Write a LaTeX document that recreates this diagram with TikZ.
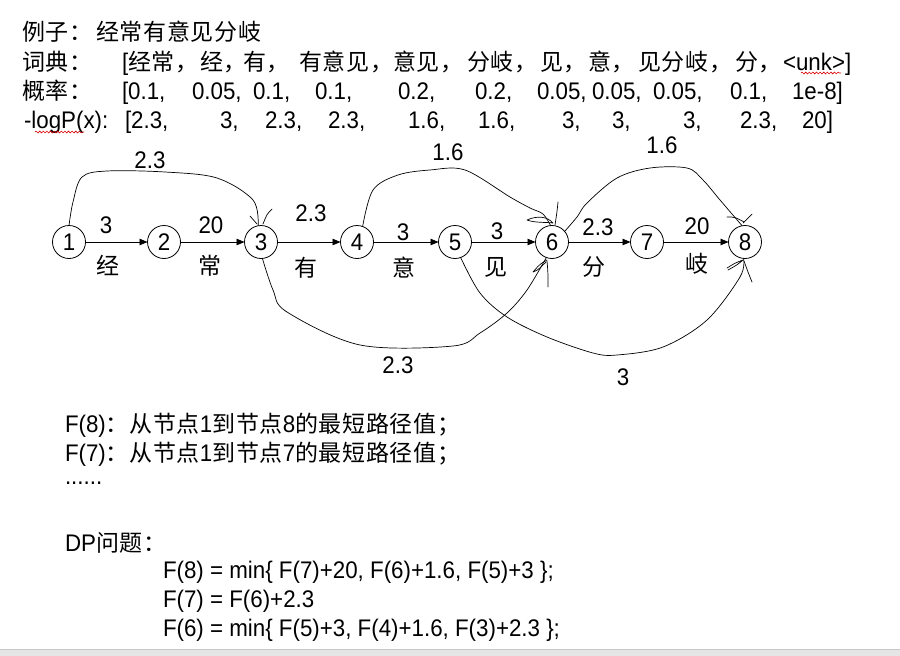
\documentclass[tikz,border=0pt]{standalone}
\usepackage{fontspec}
\setmainfont{Liberation Sans}[FakeStretch=0.93]
\newfontfamily\zhfont{Noto Sans CJK SC}[LetterSpace=3]
\newcommand\zh[1]{{\fontsize{23}{27}\zhfont #1}}
\usetikzlibrary{arrows.meta,decorations.pathmorphing,calc}
\begin{document}
\begin{tikzpicture}[x=1pt,y=-1pt,
  every node/.style={inner sep=0pt,outer sep=0pt,font=\fontsize{24}{28}\selectfont},
  txt/.style={anchor=base west},
  vtx/.style={circle,draw,line width=0.8pt,minimum size=33pt},
  arr/.style={line width=0.8pt,-{Triangle[length=8pt,width=6.5pt]}},
  hand/.style={line width=0.7pt,line join=round,line cap=round},
  squig/.style={red!85!black,line width=0.6pt,decorate,decoration={snake,segment length=3.6pt,amplitude=0.9pt}}]
\useasboundingbox (0,0) rectangle (900,656);
\fill[white] (0,0) rectangle (900,656);
\fill[black!10] (0,649) rectangle (900,656);
\draw[black!22,line width=0.8pt] (0,649) -- (900,649);

% ---- header rows
\node[txt] (r1a) at (22,40) {\zh{例子：}};
\node[txt] (r1b) at (96,40) {\zh{经常有意见分岐}};

\node[txt] (r2a) at (22,70) {\zh{词典：}};
\node[txt] (r2b) at (122,70) {[\zh{经常，}};
\node[txt] (r2c) at (200,70) {\zh{经，}};
\node[txt] (r2d) at (243,70) {\zh{有，}};
\node[txt] (r2e) at (299,70) {\zh{有意见，}};
\node[txt] (r2f) at (393,70) {\zh{意见，}};
\node[txt] (r2g) at (467,70) {\zh{分岐，}};
\node[txt] (r2h) at (540,70) {\zh{见，}};
\node[txt] (r2i) at (588,70) {\zh{意，}};
\node[txt] (r2j) at (638,70) {\zh{见分岐，}};
\node[txt] (r2k) at (735,70) {\zh{分，}};
\node[txt] (r2l) at (783,70) {<unk>]};

\node[txt] (r3a) at (22,99) {\zh{概率：}};
\node[txt] (r3b) at (122,99) {[0.1,};
\node[txt] (r3c) at (192,99) {0.05,};
\node[txt] (r3d) at (253,99) {0.1,};
\node[txt] (r3e) at (315,99) {0.1,};
\node[txt] (r3f) at (398,99) {0.2,};
\node[txt] (r3g) at (475,99) {0.2,};
\node[txt] (r3h) at (537,99) {0.05,};
\node[txt] (r3i) at (592,99) {0.05,};
\node[txt] (r3j) at (653,99) {0.05,};
\node[txt] (r3k) at (730,99) {0.1,};
\node[txt] (r3l) at (792,99) {1e-8]};

\node[txt] (r4a) at (24,128) {-logP(x):};
\node[txt] (r4b) at (125,128) {[2.3,};
\node[txt] (r4c) at (220,128) {3,};
\node[txt] (r4d) at (265,128) {2.3,};
\node[txt] (r4e) at (328,128) {2.3,};
\node[txt] (r4f) at (408,128) {1.6,};
\node[txt] (r4g) at (478,128) {1.6,};
\node[txt] (r4h) at (562,128) {3,};
\node[txt] (r4i) at (612,128) {3,};
\node[txt] (r4j) at (683,128) {3,};
\node[txt] (r4k) at (740,128) {2.3,};
\node[txt] (r4l) at (802,128) {20]};

% spell-check squiggles
\coordinate (sq1a) at (35,132);
\coordinate (sq1b) at (84,132);
\coordinate (sq2a) at (801,73);
\coordinate (sq2b) at (841,73);
\draw[squig] (sq1a) -- (sq1b);
\draw[squig] (sq2a) -- (sq2b);

% ---- graph
\foreach \i/\x in {1/69,2/164,3/261,4/357,5/455,6/552,7/647,8/745}
  \node[vtx] (n\i) at (\x,242) {\i};

\draw[arr] (n1) -- (n2);
\draw[arr] (n2) -- (n3);
\draw[arr] (n3) -- (n4);
\draw[arr] (n4) -- (n5);
\draw[arr] (n5) -- (n6);
\draw[arr] (n6) -- (n7);
\draw[arr] (n7) -- (n8);

\node (w12) at (106,225) {3};
\node (w23) at (211,225) {20};
\node (w34) at (311,213) {2.3};
\node (w45) at (403,232) {3};
\node (w56) at (497,231) {3};
\node (w67) at (598,227) {2.3};
\node (w78) at (697,226) {20};

\node (c12) at (108,265) {\zh{经}};
\node (c23) at (210,266) {\zh{常}};
\node (c34) at (306,268) {\zh{有}};
\node (c45) at (404,268) {\zh{意}};
\node (c56) at (496,267) {\zh{见}};
\node (c67) at (594,267) {\zh{分}};
\node (c78) at (697,264) {\zh{岐}};

% freehand curved edges
\draw[hand] plot[smooth,tension=0.55] coordinates {(n1.north) (73,202) (82,177) (107,171) (165,172) (217,178) (253,200) (n3.100)};
\draw[hand] plot[smooth,tension=0.55] coordinates {(n4.70) (373,190) (398,175) (430,170) (465,170) (510,197) (530,208) (543,214) (n6.95)};
\draw[hand] plot[smooth,tension=0.55] coordinates {(n6.40) (577,217) (587,203) (617,178) (650,168) (687,168) (703,180) (720,200) (n8.100)};
\draw[hand] plot[smooth,tension=0.55] coordinates {(n3.275) (273,290) (287,312) (360,345) (453,346) (480,333) (507,313) (527,290) (n6.250)};
\draw[hand] plot[smooth,tension=0.55] coordinates {(n5.290) (480,293) (507,317) (547,337) (593,353) (617,355) (663,347) (707,320) (740,277) (n8.265)};

\node (k13) at (150,160) {2.3};
\node (k46) at (448,152) {1.6};
\node (k68) at (662,145) {1.6};
\node (k36) at (398,365) {2.3};
\node (k58) at (623,377) {3};

% hand-drawn arrow marks
\draw[hand] (250,216) -- (257,224);
\draw[hand] (272,209) .. controls (267,214) .. (263,224);
\draw[hand] (527,220) .. controls (538,215) and (548,217) .. (553,223) .. controls (545,222) and (535,223) .. (527,220);
\draw[hand] (558,202) .. controls (557,212) .. (555,225);
\draw[hand] (547,260) .. controls (540,264) .. (533,272) .. controls (538,270) .. (546,262);
\draw[hand] (547,261) .. controls (548,272) .. (548,287);
\draw[hand] (727,217) .. controls (735,217) .. (744,222);
\draw[hand] (752,214) -- (743,223);
\draw[hand] (727,268) .. controls (735,263) .. (743,260) .. controls (737,265) .. (728,270);
\draw[hand] (744,261) -- (748,272) -- (752,282);

% ---- bottom text
\node[txt] (b1) at (65,432) {F(8)\zh{：从节点}1\zh{到节点}8\zh{的最短路径值；}};
\node[txt] (b2) at (65,461) {F(7)\zh{：从节点}1\zh{到节点}7\zh{的最短路径值；}};
\node[txt] (b3) at (65,484) {......};
\node[txt] (b4) at (65,551) {DP\zh{问题：}};
\node[txt] (b5) at (163,578) {F(8) = min\{ F(7)+20, F(6)+1.6, F(5)+3 \};};
\node[txt] (b6) at (163,607) {F(7) = F(6)+2.3};
\node[txt] (b7) at (163,636) {F(6) = min\{ F(5)+3, F(4)+1.6, F(3)+2.3 \};};
\end{tikzpicture}
\end{document}
